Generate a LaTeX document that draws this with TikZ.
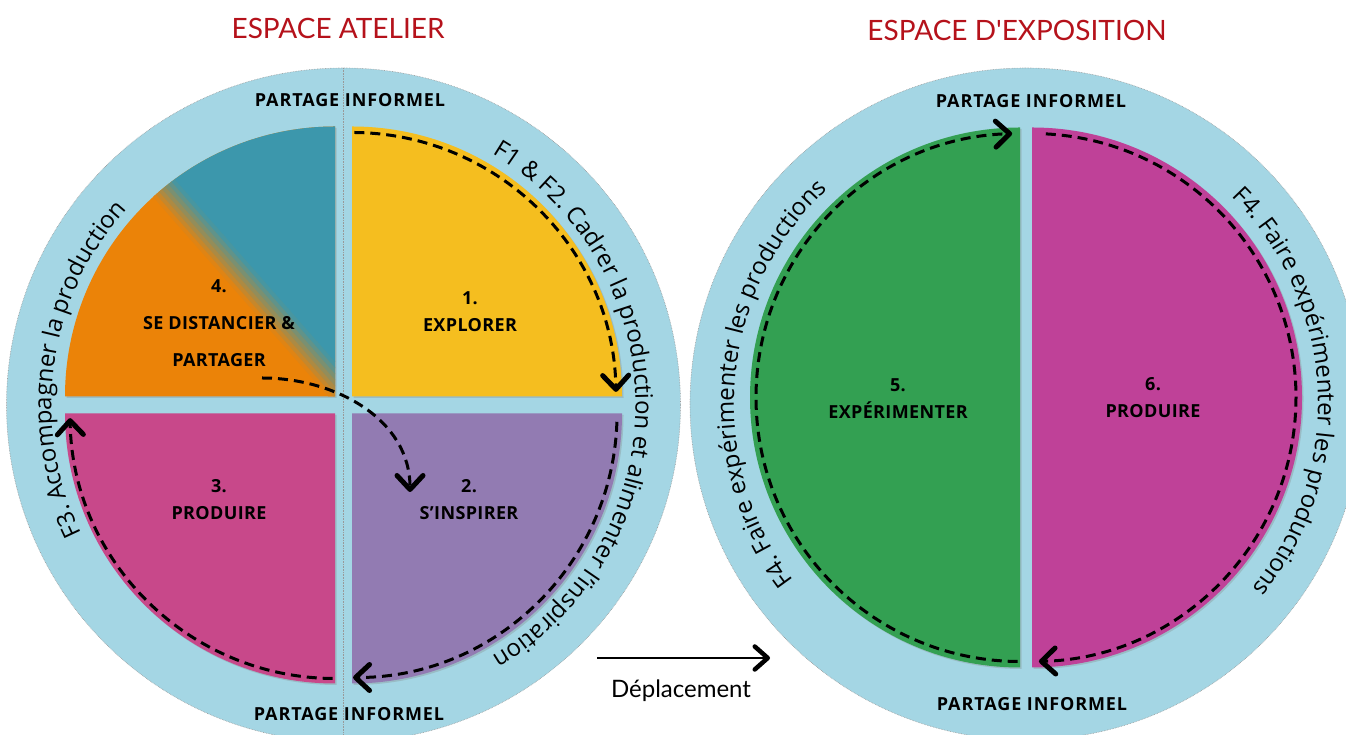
\documentclass[tikz,border=0pt]{standalone}
\usepackage{fontspec}
\setmainfont{Open Sans}
\newfontfamily\titlefont{Lato}
\usetikzlibrary{arrows.meta, decorations.text, shadows, positioning}

\definecolor{ringblue}{HTML}{A4D6E4}
\definecolor{titlered}{HTML}{B5121B}
\definecolor{yellowq}{HTML}{F5BE1F}
\definecolor{orangeq}{HTML}{EB8308}
\definecolor{tealq}{HTML}{3C97AC}
\definecolor{pinkq}{HTML}{C8488A}
\definecolor{purpleq}{HTML}{927BB2}
\definecolor{greenq}{HTML}{33A052}
\definecolor{magentaq}{HTML}{BF4198}

\newcommand\ringfont{\fontsize{24}{24}\selectfont}

\begin{document}
\begin{tikzpicture}[
  x=1pt, y=1pt,
  ring/.style={circle, fill=ringblue, draw=gray!80, densely dotted, line width=0.6pt, minimum size=674pt, inner sep=0pt},
  qshadow/.style={drop shadow={shadow xshift=1.5pt, shadow yshift=-1.5pt, opacity=0.3}},
  title/.style={font=\titlefont\fontsize{28}{28}\selectfont, text=titlered},
  share/.style={font=\bfseries\fontsize{18}{18}\selectfont\addfontfeature{LetterSpace=5}},
  stage/.style={align=center, font=\bfseries\fontsize{18}{27}\selectfont\addfontfeature{LetterSpace=2}},
  flow/.style={line width=3pt, dash pattern=on 10pt off 6pt, -{Straight Barb[length=14pt, width=26pt, line width=5pt, round]}},
  move/.style={line width=2.8pt, -{Straight Barb[length=13pt, width=23pt, line width=4.5pt, round]}},
  ringtext/.style={decorate, decoration={text along path, text align=center, text={|\ringfont|#1}}}
]
\useasboundingbox (0,0) rectangle (1346,735);

\node[title] (atelier) at (338,707) {ESPACE ATELIER};
\node[title] (expo) at (1017,705) {ESPACE D'EXPOSITION};

% espace atelier
\node[ring] (atl) at (343.5,330) {};
\draw[gray!80, densely dotted, line width=0.6pt] (343.5,667) -- (343.5,-7);

\fill[yellowq, qshadow] (352,338.5) -- ++(0:270) arc[start angle=0, end angle=90, radius=270] -- cycle;
\fill[orangeq, qshadow] (335,338.5) -- ++(90:270) arc[start angle=90, end angle=180, radius=270] -- cycle;
\begin{scope}
  \clip (335,338.5) -- ++(90:270) arc[start angle=90, end angle=180, radius=270] -- cycle;
  \begin{scope}[shift={(249,450)}, rotate=-48.7]
    \foreach \t [evaluate=\t as \p using {100*(12-\t)/28}] in {-14,-10,...,10}
      \fill[orangeq!\p!tealq] (-400,\t) rectangle (400,\t+4.5);
    \fill[tealq] (-400,14) rectangle (400,400);
  \end{scope}
\end{scope}
\fill[pinkq, qshadow] (335,321.5) -- ++(180:270) arc[start angle=180, end angle=270, radius=270] -- cycle;
\fill[purpleq, qshadow] (352,321.5) -- ++(270:270) arc[start angle=270, end angle=360, radius=270] -- cycle;

\node[share] (pi1) at (350,635) {PARTAGE INFORMEL};
\node[share] (pi2) at (349,21) {PARTAGE INFORMEL};

\node[stage, font=\bfseries\fontsize{18}{37}\selectfont\addfontfeature{LetterSpace=2}] (q4) at (219,412) {4.\\SE DISTANCIER \&\\PARTAGER};
\node[stage] (q1) at (470,423) {1.\\EXPLORER};
\node[stage] (q3) at (219,235) {3.\\PRODUIRE};
\node[stage] (q2) at (469,235) {2.\\S'INSPIRER};

\path[ringtext={F1 {\&} F2. Cadrer la production et alimenter l'inspiration}]
  (atl.center) ++(85:292) arc[start angle=85, end angle=-85, radius=292];
\path[ringtext={F3. Accompagner la production}]
  (atl.center) ++(252:292) arc[start angle=252, end angle=92, radius=292];

\coordinate (f1s) at (354.3,602.5);
\coordinate (f2s) at (262,357);
\coordinate (f2e) at (410,243);
\coordinate (f3s) at (616.9,313.2);
\coordinate (f4s) at (332.7,56.5);
\draw[flow] (f1s) arc[start angle=89.5, end angle=1, radius=264];
\draw[flow] (f2s) to[out=0, in=90] (f2e);
\draw[flow] (f3s) arc[start angle=-1.8, end angle=-90, radius=264];
\draw[flow] (f4s) arc[start angle=269.5, end angle=181, radius=265];

% espace d'exposition
\node[ring, minimum size=672pt] (exp) at (1026,331) {};
\fill[greenq, qshadow] (1020,337.5) -- ++(90:270) arc[start angle=90, end angle=270, radius=270] -- cycle;
\fill[magentaq, qshadow] (1032,337.5) -- ++(-90:270) arc[start angle=-90, end angle=90, radius=270] -- cycle;

\node[share] (pi3) at (1031,634) {PARTAGE INFORMEL};
\node[share] (pi4) at (1032,31) {PARTAGE INFORMEL};

\node[stage] (q5) at (898,336) {5.\\EXPÉRIMENTER};
\node[stage] (q6) at (1153,337) {6.\\PRODUIRE};

\path[ringtext={F4. Faire expérimenter les productions}]
  (exp.center) ++(255:292) arc[start angle=255, end angle=95, radius=292];
\path[ringtext={F4. Faire expérimenter les productions}]
  (exp.center) ++(83:292) arc[start angle=83, end angle=-77, radius=292];

\coordinate (f5s) at (1017.7,73.5);
\coordinate (f6s) at (1045.8,601.1);
\draw[flow] (f5s) arc[start angle=269.5, end angle=91.7, radius=264];
\draw[flow] (f6s) arc[start angle=87, end angle=-88.5, radius=264];

% deplacement
\coordinate (mvA) at (597,77);
\coordinate (mvB) at (770,77);
\draw[move] (mvA) -- (mvB);
\node[font=\titlefont\fontsize{24}{24}\selectfont] (mv) at (681,44) {Déplacement};
\end{tikzpicture}
\end{document}
